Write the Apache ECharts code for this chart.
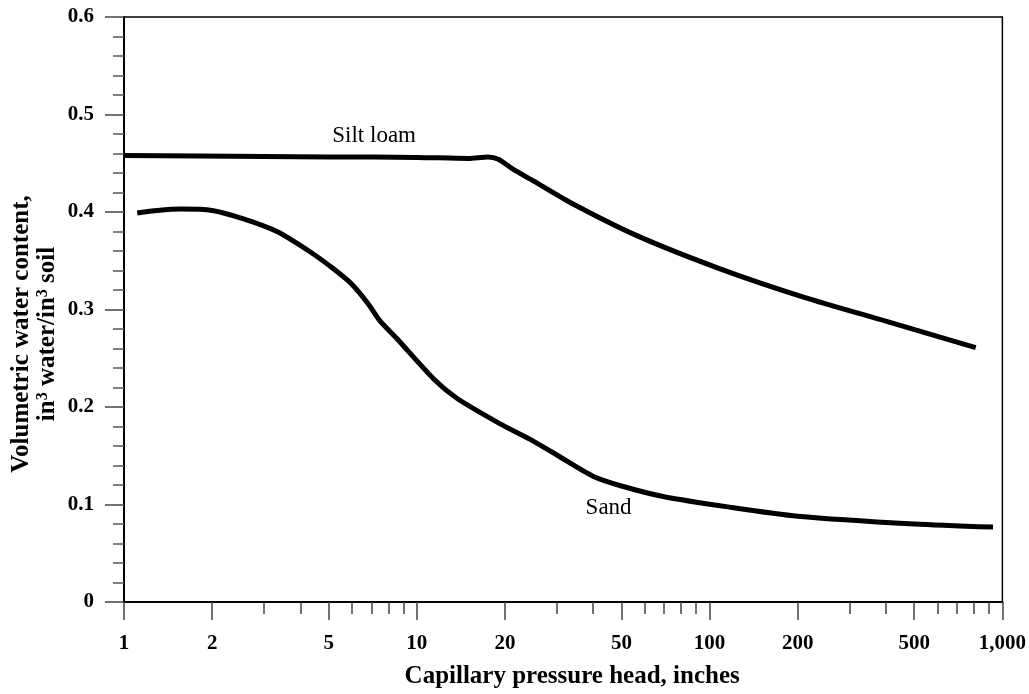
<!DOCTYPE html>
<html>
<head>
<meta charset="utf-8">
<script src="https://cdn.jsdelivr.net/npm/echarts@6/dist/echarts.min.js"></script>
<style>html,body{margin:0;padding:0;background:#fff}#c{width:1029px;height:694px}</style>
</head>
<body>
<div id="c"></div>
<script>
// Data
const siltX = [1, 3, 5, 10, 15, 17.5, 19, 21.3, 25, 33.3, 56.2, 108, 208, 400, 811];
const siltY = [0.458, 0.457, 0.4565, 0.456, 0.455, 0.4565, 0.454, 0.444, 0.432, 0.410, 0.376, 0.342, 0.313, 0.288, 0.261];
const sandX = [1.11, 1.3, 1.56, 2, 2.56, 3.33, 4.33, 5.18, 6.0, 6.82, 7.5, 8.5, 11.4, 13.7, 19.2, 24.3, 30, 40, 50, 70, 117, 200, 500, 929];
const sandY = [0.399, 0.4015, 0.403, 0.4016, 0.393, 0.380, 0.359, 0.342, 0.326, 0.306, 0.288, 0.271, 0.229, 0.209, 0.183, 0.167, 0.151, 0.129, 0.119, 0.108, 0.0973, 0.088, 0.080, 0.0768];
const xMajor = [1, 2, 5, 10, 20, 50, 100, 200, 500, 1000];
const xMinor = [3, 4, 6, 7, 8, 9, 30, 40, 60, 70, 80, 90, 300, 400, 600, 700, 800, 900];
const yTicks = [0, 0.1, 0.2, 0.3, 0.4, 0.5, 0.6];
const labels = [
  {name: 'Silt loam', coord: [7.15, 0.478]},
  {name: 'Sand', coord: [45.2, 0.0962]}
];

const serif = '"Liberation Serif", "Times New Roman", serif';
const zip = (xs, ys) => xs.map((x, i) => [x, ys[i]]);
const fmtX = v => v >= 1000 ? String(v).replace(/\B(?=(\d{3})+(?!\d))/g, ',') : String(v);

const chart = echarts.init(document.getElementById('c'));
chart.setOption({
  animation: false,
  backgroundColor: '#fff',
  grid: {left: 124, right: 25, top: 17, bottom: 89, show: true, borderColor: '#000', borderWidth: 1.5, backgroundColor: 'transparent'},
  xAxis: [{
    type: 'log', logBase: 10, min: 1, max: 1000,
    name: 'Capillary pressure head, inches', nameLocation: 'middle', nameGap: 62,
    nameTextStyle: {fontFamily: serif, fontWeight: 'bold', fontSize: 25, color: '#000', padding: [0, 0, 0, 18]},
    axisLine: {show: true, lineStyle: {color: '#000', width: 2}},
    axisTick: {show: true, customValues: xMajor, length: 18, lineStyle: {color: '#444', width: 1.5}},
    axisLabel: {customValues: xMajor, formatter: fmtX, margin: 31, fontFamily: serif, fontWeight: 'bold', fontSize: 21, color: '#000'},
    splitLine: {show: false}, minorTick: {show: false}
  }, {
    type: 'log', logBase: 10, min: 1, max: 1000, position: 'bottom',
    axisLine: {show: false},
    axisTick: {show: true, customValues: xMinor, length: 12, lineStyle: {color: '#444', width: 1.5}},
    axisLabel: {show: false}, splitLine: {show: false}
  }],
  yAxis: {
    type: 'value', min: 0, max: 0.6, interval: 0.1,
    axisLine: {show: true, lineStyle: {color: '#000', width: 2}},
    axisTick: {show: true, length: 19, lineStyle: {color: '#444', width: 1.5}},
    minorTick: {show: true, splitNumber: 5, length: 11, lineStyle: {color: '#555', width: 1.5}},
    axisLabel: {margin: 30, fontFamily: serif, fontWeight: 'bold', fontSize: 21, color: '#000',
      customValues: yTicks, formatter: v => String(Math.round(v * 10) / 10)},
    splitLine: {show: false}, minorSplitLine: {show: false}
  },
  graphic: [{
    type: 'text', x: 35, y: 334, rotation: Math.PI / 2,
    style: {
      text: '{b|Volumetric water content,}\n{b|in}{s|3}{b| water/in}{s|3}{b| soil}',
      align: 'center', verticalAlign: 'middle', fill: '#000',
      rich: {
        b: {fontFamily: serif, fontWeight: 'bold', fontSize: 25, lineHeight: 26, fill: '#000'},
        s: {fontFamily: serif, fontWeight: 'bold', fontSize: 16, lineHeight: 26, verticalAlign: 'top', fill: '#000'}
      }
    }
  }],
  series: [{
    name: 'Silt loam', type: 'line', xAxisIndex: 0, data: zip(siltX, siltY),
    showSymbol: false, smooth: 0.25, lineStyle: {color: '#000', width: 5}, z: 3,
    markPoint: {
      symbol: 'circle', symbolSize: 0,
      label: {show: true, formatter: p => p.name, fontFamily: serif, fontSize: 23, color: '#000', position: 'inside'},
      data: labels.map(l => ({name: l.name, coord: l.coord}))
    }
  }, {
    name: 'Sand', type: 'line', xAxisIndex: 0, data: zip(sandX, sandY),
    showSymbol: false, smooth: 0.25, lineStyle: {color: '#000', width: 5}, z: 3
  }]
});
</script>
</body>
</html>
